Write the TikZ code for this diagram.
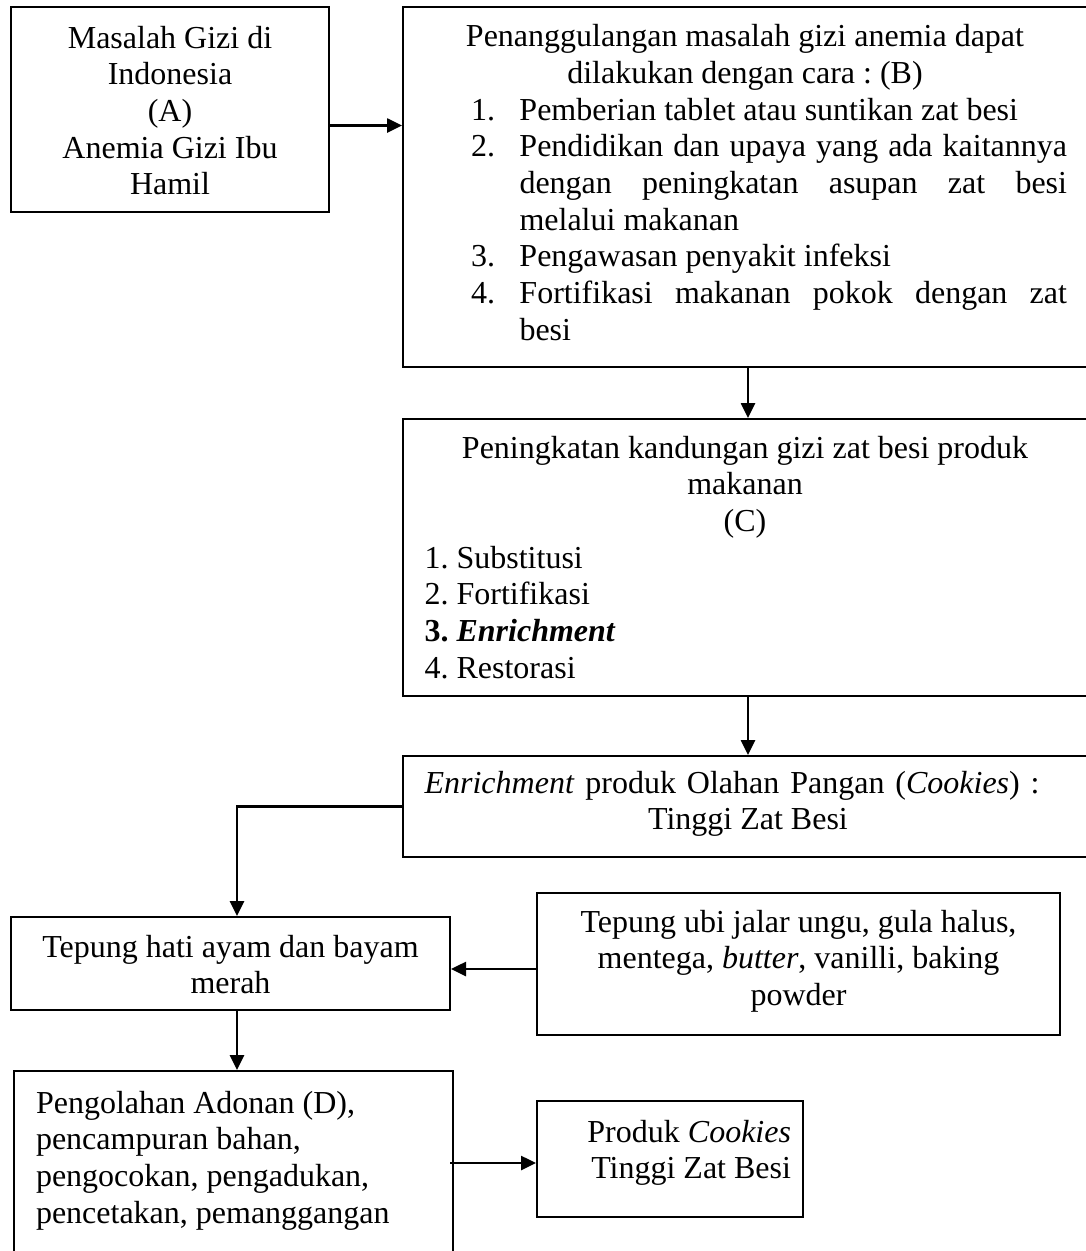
\documentclass[tikz,border=0pt]{standalone}
\usepackage{fontspec}
\setmainfont{Liberation Serif}
\usetikzlibrary{arrows.meta}
\frenchspacing

\begin{document}
\begin{tikzpicture}[x=1pt,y=-1pt,
  every node/.style={font=\fontsize{32}{36.7}\selectfont},
  kotak/.style={draw,line width=2pt,anchor=base west,inner ysep=0pt,inner xsep=8pt,
    execute at begin node={\spaceskip=0.25em\relax\xspaceskip=0.25em\relax}},
  panah/.style={line width=2.6pt,-{Triangle[length=15pt,width=14pt]}}]
%\draw[help lines] (0,0) grid (1085,1251);

\useasboundingbox (0,0) rectangle (1085,1251);

\node[kotak,text width=302pt,text height=41pt,text depth=164pt,align=center] (masalah) at (10,48)
 {Masalah Gizi di\\Indonesia\\(A)\\Anemia Gizi Ibu\\Hamil};

\node[kotak,inner xsep=21.6pt,text width=646.8pt,text height=39.7pt,text depth=320.3pt,align=left] (penanggulangan) at (402,46.7)
 {\makebox[640.8pt]{Penanggulangan masalah gizi anemia dapat}\\
  \makebox[640.8pt]{dilakukan dengan cara : (B)}\\
  \hspace*{46.4pt}\makebox[48.5pt][l]{1.}Pemberian tablet atau suntikan zat besi\\
  \hspace*{46.4pt}\makebox[48.5pt][l]{2.}\makebox[547.5pt][s]{\spaceskip=0.25em plus 1fil
    Pendidikan dan upaya yang ada kaitannya}\\
  \hspace*{94.9pt}\makebox[547.5pt][s]{\spaceskip=0.25em plus 1fil
    dengan peningkatan asupan zat besi}\\
  \hspace*{94.9pt}melalui makanan\\
  \hspace*{46.4pt}\makebox[48.5pt][l]{3.}Pengawasan penyakit infeksi\\
  \hspace*{46.4pt}\makebox[48.5pt][l]{4.}\makebox[547.5pt][s]{\spaceskip=0.25em plus 1fil
    Fortifikasi makanan pokok dengan zat}\\
  \hspace*{94.9pt}besi};

\node[kotak,inner xsep=21.6pt,text width=646.8pt,text height=39pt,text depth=238pt,align=left] (peningkatan) at (402,458)
 {\makebox[640.8pt]{Peningkatan kandungan gizi zat besi produk}\\
  \makebox[640.8pt]{makanan}\\
  \makebox[640.8pt]{(C)}\\
  1. Substitusi\\
  2. Fortifikasi\\
  \textbf{3. \textit{Enrichment}}\\
  4. Restorasi};

\node[kotak,inner xsep=21.6pt,text width=646.8pt,text height=37pt,text depth=64pt,align=center] (enrichment) at (402,793)
 {\makebox[\linewidth][l]{\makebox[615pt][s]{\spaceskip=0.25em plus 1fil
    \textit{Enrichment} produk Olahan Pangan (\textit{Cookies}) :}}\\Tinggi Zat Besi};

\node[kotak,text width=423pt,text height=40pt,text depth=53pt,align=center] (tepunghati) at (10,957)
 {Tepung hati ayam dan bayam\\merah};

\node[kotak,text width=507pt,text height=39pt,text depth=103pt,align=center] (tepungubi) at (536,932)
 {Tepung ubi jalar ungu, gula halus,\\mentega, \textit{butter}, vanilli, baking\\powder};

\node[kotak,inner xsep=22pt,text width=395pt,text height=42pt,text depth=149pt,align=left] (pengolahan) at (13,1113)
 {Pengolahan Adonan (D),\\pencampuran bahan,\\pengocokan, pengadukan,\\pencetakan, pemanggangan};

\node[kotak,inner xsep=12pt,text width=242pt,text height=41pt,text depth=75pt,align=right] (produk) at (536,1142)
 {Produk \textit{Cookies}\\Tinggi Zat Besi};

% panah
\coordinate (a1) at ([yshift=-16pt]masalah.east);
\draw[panah] (a1) -- (a1 -| penanggulangan.west);
\draw[panah] (penanggulangan.south) -- (peningkatan.north);
\draw[panah] (peningkatan.south) -- (enrichment.north);
\coordinate (h1) at ([xshift=6.5pt]tepunghati.north);
\draw[panah] (enrichment.west) -| (h1);
\coordinate (u1) at ([yshift=-5pt]tepungubi.west);
\draw[panah] (u1) -- (u1 -| tepunghati.east);
\coordinate (h2) at ([xshift=6.5pt]tepunghati.south);
\draw[panah] (h2) -- (h2 |- pengolahan.north);
\coordinate (p1) at ([yshift=-4pt]produk.west);
\draw[panah] ([xshift=-4pt]pengolahan.east |- p1) -- (p1);

\end{tikzpicture}
\end{document}
